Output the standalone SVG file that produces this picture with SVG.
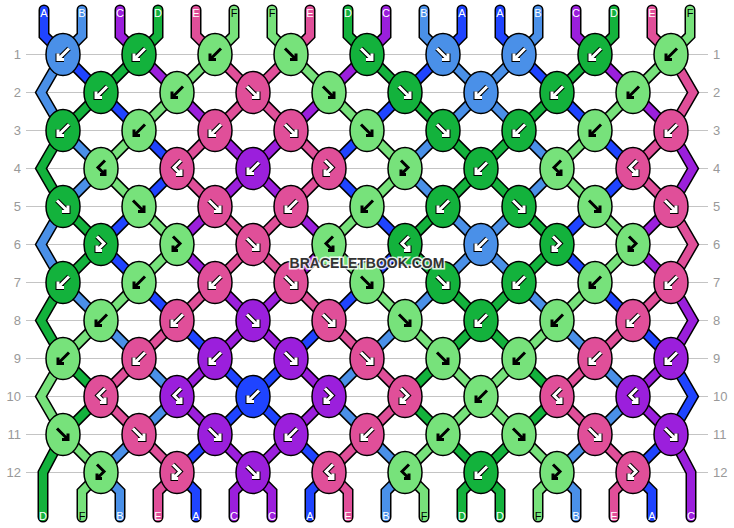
<svg xmlns="http://www.w3.org/2000/svg" xmlns:xlink="http://www.w3.org/1999/xlink" width="734" height="528" viewBox="0 0 734 528">
<style>
.A{fill:#1f44ff}.B{fill:#4a90e8}.C{fill:#9b1fdc}.D{fill:#13b23c}.E{fill:#e04f99}.F{fill:#77e27b}
ellipse{stroke:#000;stroke-width:1.5}
.rl{font-family:"Liberation Sans",Arial,sans-serif;font-size:13px;fill:#999}
.sl{font-family:"Liberation Sans",Arial,sans-serif;font-size:11px;text-anchor:middle;fill:#fff}
.sl.k{fill:#000}
.wm{font-family:"Liberation Sans",Arial,sans-serif;font-size:14px;font-weight:bold;text-anchor:middle;fill:#333;stroke:#fff;stroke-width:3;stroke-opacity:0.85;paint-order:stroke}
</style>
<defs>
<path id="aL" d="M6,-6L-5,5M-5,-1L-5,5L1,5"/>
<path id="aR" d="M-6,-6L5,5M5,-1L5,5L-1,5"/>
<path id="aFB" d="M-4,-8L3,-1L-4,6M-4,1L-4,6L1,6"/>
<path id="aBF" d="M4,-8L-3,-1L4,6M4,1L4,6L-1,6"/>
<g id="wL" fill="none"><use href="#aL" stroke="#000" stroke-width="5"/><use href="#aL" stroke="#fff" stroke-width="3"/></g>
<g id="wR" fill="none"><use href="#aR" stroke="#000" stroke-width="5"/><use href="#aR" stroke="#fff" stroke-width="3"/></g>
<g id="wFB" fill="none"><use href="#aFB" stroke="#000" stroke-width="5"/><use href="#aFB" stroke="#fff" stroke-width="3"/></g>
<g id="wBF" fill="none"><use href="#aBF" stroke="#000" stroke-width="5"/><use href="#aBF" stroke="#fff" stroke-width="3"/></g>
<g id="bL" fill="none"><use href="#aL" stroke="#000" stroke-width="3"/></g>
<g id="bR" fill="none"><use href="#aR" stroke="#000" stroke-width="3"/></g>
<g id="bFB" fill="none"><use href="#aFB" stroke="#000" stroke-width="3"/></g>
<g id="bBF" fill="none"><use href="#aBF" stroke="#000" stroke-width="3"/></g>
</defs>
<rect width="734" height="528" fill="#fff"/>
<g id="grid">
<path d="M26 54.5H708M26 92.5H708M26 130.5H708M26 168.5H708M26 206.5H708M26 244.5H708M26 282.5H708M26 320.5H708M26 358.5H708M26 396.5H708M26 434.5H708M26 472.5H708" stroke="#c4c4c4" stroke-width="1" fill="none"/>
</g>
<g id="connectors" fill="none" stroke-linecap="round" stroke-linejoin="miter">
<g stroke="#000" stroke-width="11">
<use href="#sA"/><use href="#sB"/><use href="#sC"/><use href="#sD"/><use href="#sE"/><use href="#sF"/>
</g>
<g stroke="#1f44ff" stroke-width="8"><path id="sA" d="M44 10V35.5L63 54.5M462 10V35.5L443 54.5M500 10V35.5L519 54.5M63 54.5l38 38M443 54.5l-38 38M519 54.5l38 38M101 92.5l38 38M405 92.5l-38 38M557 92.5l38 38M139 130.5l38 38M367 130.5l-38 38M595 130.5l38 38M177 168.5l-38 38M329 168.5l38 38M633 168.5l-38 38M139 206.5l-38 38M367 206.5l38 38M595 206.5l-38 38M101 244.5l38 38M405 244.5l-38 38M557 244.5l38 38M139 282.5l38 38M367 282.5l-38 38M595 282.5l38 38M177 320.5l38 38M329 320.5l-38 38M633 320.5l38 38M215 358.5l38 38M291 358.5l-38 38M253 396.5l-38 38M253 396.5l38 38M215 434.5l-38 38M291 434.5l38 38M671 434.5l-38 38M177 472.5L196 491.5V517M329 472.5L310 491.5V517M633 472.5L652 491.5V517M671 358.5L693 396.5L671 434.5"/></g>
<g stroke="#4a90e8" stroke-width="8"><path id="sB" d="M82 10V35.5L63 54.5M424 10V35.5L443 54.5M538 10V35.5L519 54.5M443 54.5l38 38M519 54.5l-38 38M63 54.5L41 92.5L63 130.5M481 92.5l-38 38M481 92.5l38 38M63 130.5l38 38M443 130.5l-38 38M519 130.5l38 38M101 168.5l-38 38M405 168.5l38 38M557 168.5l-38 38M443 206.5l38 38M519 206.5l-38 38M63 206.5L41 244.5L63 282.5M481 244.5l-38 38M481 244.5l38 38M63 282.5l38 38M443 282.5l-38 38M519 282.5l38 38M101 320.5l38 38M405 320.5l-38 38M557 320.5l38 38M139 358.5l38 38M367 358.5l-38 38M595 358.5l38 38M177 396.5l-38 38M329 396.5l38 38M633 396.5l-38 38M139 434.5l-38 38M367 434.5l38 38M595 434.5l-38 38M101 472.5L120 491.5V517M405 472.5L386 491.5V517M557 472.5L576 491.5V517"/></g>
<g stroke="#9b1fdc" stroke-width="8"><path id="sC" d="M120 10V35.5L139 54.5M386 10V35.5L367 54.5M576 10V35.5L595 54.5M139 54.5l38 38M367 54.5l-38 38M595 54.5l38 38M177 92.5l38 38M329 92.5l-38 38M633 92.5l38 38M215 130.5l38 38M291 130.5l-38 38M671 130.5L693 168.5L671 206.5M253 168.5l-38 38M253 168.5l38 38M215 206.5l-38 38M291 206.5l38 38M671 206.5l-38 38M177 244.5l38 38M329 244.5l-38 38M633 244.5l38 38M215 282.5l38 38M291 282.5l-38 38M671 282.5L693 320.5L671 358.5M253 320.5l-38 38M253 320.5l38 38M215 358.5l-38 38M291 358.5l38 38M671 358.5l-38 38M177 396.5l38 38M329 396.5l-38 38M633 396.5l38 38M215 434.5l38 38M291 434.5l-38 38M253 472.5L234 491.5V517M253 472.5L272 491.5V517M671 434.5L691 472.5V517"/></g>
<g stroke="#13b23c" stroke-width="8"><path id="sD" d="M158 10V35.5L139 54.5M348 10V35.5L367 54.5M614 10V35.5L595 54.5M139 54.5l-38 38M367 54.5l38 38M595 54.5l-38 38M101 92.5l-38 38M405 92.5l38 38M557 92.5l-38 38M63 130.5L41 168.5L63 206.5M443 130.5l38 38M519 130.5l-38 38M481 168.5l-38 38M481 168.5l38 38M63 206.5l38 38M443 206.5l-38 38M519 206.5l38 38M101 244.5l-38 38M405 244.5l38 38M557 244.5l-38 38M63 282.5L41 320.5L63 358.5M443 282.5l38 38M519 282.5l-38 38M481 320.5l-38 38M481 320.5l38 38M63 358.5l38 38M443 358.5l-38 38M519 358.5l38 38M101 396.5l-38 38M405 396.5l38 38M557 396.5l-38 38M443 434.5l38 38M519 434.5l-38 38M481 472.5L462 491.5V517M481 472.5L500 491.5V517M63 434.5L43 472.5V517"/></g>
<g stroke="#e04f99" stroke-width="8"><path id="sE" d="M196 10V35.5L215 54.5M310 10V35.5L291 54.5M652 10V35.5L671 54.5M215 54.5l38 38M291 54.5l-38 38M671 54.5L693 92.5L671 130.5M253 92.5l-38 38M253 92.5l38 38M215 130.5l-38 38M291 130.5l38 38M671 130.5l-38 38M177 168.5l38 38M329 168.5l-38 38M633 168.5l38 38M215 206.5l38 38M291 206.5l-38 38M671 206.5L693 244.5L671 282.5M253 244.5l-38 38M253 244.5l38 38M215 282.5l-38 38M291 282.5l38 38M671 282.5l-38 38M177 320.5l-38 38M329 320.5l38 38M633 320.5l-38 38M139 358.5l-38 38M367 358.5l38 38M595 358.5l-38 38M101 396.5l38 38M405 396.5l-38 38M557 396.5l38 38M139 434.5l38 38M367 434.5l-38 38M595 434.5l38 38M177 472.5L158 491.5V517M329 472.5L348 491.5V517M633 472.5L614 491.5V517"/></g>
<g stroke="#77e27b" stroke-width="8"><path id="sF" d="M234 10V35.5L215 54.5M272 10V35.5L291 54.5M690 10V35.5L671 54.5M215 54.5l-38 38M291 54.5l38 38M671 54.5l-38 38M177 92.5l-38 38M329 92.5l38 38M633 92.5l-38 38M139 130.5l-38 38M367 130.5l38 38M595 130.5l-38 38M101 168.5l38 38M405 168.5l-38 38M557 168.5l38 38M139 206.5l38 38M367 206.5l-38 38M595 206.5l38 38M177 244.5l-38 38M329 244.5l38 38M633 244.5l-38 38M139 282.5l-38 38M367 282.5l38 38M595 282.5l-38 38M101 320.5l-38 38M405 320.5l38 38M557 320.5l-38 38M63 358.5L41 396.5L63 434.5M443 358.5l38 38M519 358.5l-38 38M481 396.5l-38 38M481 396.5l38 38M63 434.5l38 38M443 434.5l-38 38M519 434.5l38 38M101 472.5L82 491.5V517M405 472.5L424 491.5V517M557 472.5L538 491.5V517"/></g>
</g>
<g id="knots">
<g id="k1_1" transform="translate(63 54.5)"><ellipse rx="17" ry="21" class="B"/><use href="#wL"/></g>
<g id="k1_2" transform="translate(139 54.5)"><ellipse rx="17" ry="21" class="D"/><use href="#wL"/></g>
<g id="k1_3" transform="translate(215 54.5)"><ellipse rx="17" ry="21" class="F"/><use href="#bL"/></g>
<g id="k1_4" transform="translate(291 54.5)"><ellipse rx="17" ry="21" class="F"/><use href="#bR"/></g>
<g id="k1_5" transform="translate(367 54.5)"><ellipse rx="17" ry="21" class="D"/><use href="#wR"/></g>
<g id="k1_6" transform="translate(443 54.5)"><ellipse rx="17" ry="21" class="B"/><use href="#wR"/></g>
<g id="k1_7" transform="translate(519 54.5)"><ellipse rx="17" ry="21" class="B"/><use href="#wL"/></g>
<g id="k1_8" transform="translate(595 54.5)"><ellipse rx="17" ry="21" class="D"/><use href="#wL"/></g>
<g id="k1_9" transform="translate(671 54.5)"><ellipse rx="17" ry="21" class="F"/><use href="#bL"/></g>

<g id="k2_1" transform="translate(101 92.5)"><ellipse rx="17" ry="21" class="D"/><use href="#wL"/></g>
<g id="k2_2" transform="translate(177 92.5)"><ellipse rx="17" ry="21" class="F"/><use href="#bL"/></g>
<g id="k2_3" transform="translate(253 92.5)"><ellipse rx="17" ry="21" class="E"/><use href="#wR"/></g>
<g id="k2_4" transform="translate(329 92.5)"><ellipse rx="17" ry="21" class="F"/><use href="#bR"/></g>
<g id="k2_5" transform="translate(405 92.5)"><ellipse rx="17" ry="21" class="D"/><use href="#wR"/></g>
<g id="k2_6" transform="translate(481 92.5)"><ellipse rx="17" ry="21" class="B"/><use href="#wL"/></g>
<g id="k2_7" transform="translate(557 92.5)"><ellipse rx="17" ry="21" class="D"/><use href="#wL"/></g>
<g id="k2_8" transform="translate(633 92.5)"><ellipse rx="17" ry="21" class="F"/><use href="#bL"/></g>

<g id="k3_1" transform="translate(63 130.5)"><ellipse rx="17" ry="21" class="D"/><use href="#wL"/></g>
<g id="k3_2" transform="translate(139 130.5)"><ellipse rx="17" ry="21" class="F"/><use href="#bL"/></g>
<g id="k3_3" transform="translate(215 130.5)"><ellipse rx="17" ry="21" class="E"/><use href="#wL"/></g>
<g id="k3_4" transform="translate(291 130.5)"><ellipse rx="17" ry="21" class="E"/><use href="#wR"/></g>
<g id="k3_5" transform="translate(367 130.5)"><ellipse rx="17" ry="21" class="F"/><use href="#bR"/></g>
<g id="k3_6" transform="translate(443 130.5)"><ellipse rx="17" ry="21" class="D"/><use href="#wR"/></g>
<g id="k3_7" transform="translate(519 130.5)"><ellipse rx="17" ry="21" class="D"/><use href="#wL"/></g>
<g id="k3_8" transform="translate(595 130.5)"><ellipse rx="17" ry="21" class="F"/><use href="#bL"/></g>
<g id="k3_9" transform="translate(671 130.5)"><ellipse rx="17" ry="21" class="E"/><use href="#wL"/></g>

<g id="k4_1" transform="translate(101 168.5)"><ellipse rx="17" ry="21" class="F"/><use href="#bBF"/></g>
<g id="k4_2" transform="translate(177 168.5)"><ellipse rx="17" ry="21" class="E"/><use href="#wBF"/></g>
<g id="k4_3" transform="translate(253 168.5)"><ellipse rx="17" ry="21" class="C"/><use href="#wL"/></g>
<g id="k4_4" transform="translate(329 168.5)"><ellipse rx="17" ry="21" class="E"/><use href="#wFB"/></g>
<g id="k4_5" transform="translate(405 168.5)"><ellipse rx="17" ry="21" class="F"/><use href="#bFB"/></g>
<g id="k4_6" transform="translate(481 168.5)"><ellipse rx="17" ry="21" class="D"/><use href="#wL"/></g>
<g id="k4_7" transform="translate(557 168.5)"><ellipse rx="17" ry="21" class="F"/><use href="#bBF"/></g>
<g id="k4_8" transform="translate(633 168.5)"><ellipse rx="17" ry="21" class="E"/><use href="#wBF"/></g>

<g id="k5_1" transform="translate(63 206.5)"><ellipse rx="17" ry="21" class="D"/><use href="#wR"/></g>
<g id="k5_2" transform="translate(139 206.5)"><ellipse rx="17" ry="21" class="F"/><use href="#bR"/></g>
<g id="k5_3" transform="translate(215 206.5)"><ellipse rx="17" ry="21" class="E"/><use href="#wR"/></g>
<g id="k5_4" transform="translate(291 206.5)"><ellipse rx="17" ry="21" class="E"/><use href="#wL"/></g>
<g id="k5_5" transform="translate(367 206.5)"><ellipse rx="17" ry="21" class="F"/><use href="#bL"/></g>
<g id="k5_6" transform="translate(443 206.5)"><ellipse rx="17" ry="21" class="D"/><use href="#wL"/></g>
<g id="k5_7" transform="translate(519 206.5)"><ellipse rx="17" ry="21" class="D"/><use href="#wR"/></g>
<g id="k5_8" transform="translate(595 206.5)"><ellipse rx="17" ry="21" class="F"/><use href="#bR"/></g>
<g id="k5_9" transform="translate(671 206.5)"><ellipse rx="17" ry="21" class="E"/><use href="#wR"/></g>

<g id="k6_1" transform="translate(101 244.5)"><ellipse rx="17" ry="21" class="D"/><use href="#wFB"/></g>
<g id="k6_2" transform="translate(177 244.5)"><ellipse rx="17" ry="21" class="F"/><use href="#bFB"/></g>
<g id="k6_3" transform="translate(253 244.5)"><ellipse rx="17" ry="21" class="E"/><use href="#wR"/></g>
<g id="k6_4" transform="translate(329 244.5)"><ellipse rx="17" ry="21" class="F"/><use href="#bBF"/></g>
<g id="k6_5" transform="translate(405 244.5)"><ellipse rx="17" ry="21" class="D"/><use href="#wBF"/></g>
<g id="k6_6" transform="translate(481 244.5)"><ellipse rx="17" ry="21" class="B"/><use href="#wL"/></g>
<g id="k6_7" transform="translate(557 244.5)"><ellipse rx="17" ry="21" class="D"/><use href="#wFB"/></g>
<g id="k6_8" transform="translate(633 244.5)"><ellipse rx="17" ry="21" class="F"/><use href="#bFB"/></g>

<g id="k7_1" transform="translate(63 282.5)"><ellipse rx="17" ry="21" class="D"/><use href="#wL"/></g>
<g id="k7_2" transform="translate(139 282.5)"><ellipse rx="17" ry="21" class="F"/><use href="#bL"/></g>
<g id="k7_3" transform="translate(215 282.5)"><ellipse rx="17" ry="21" class="E"/><use href="#wL"/></g>
<g id="k7_4" transform="translate(291 282.5)"><ellipse rx="17" ry="21" class="E"/><use href="#wR"/></g>
<g id="k7_5" transform="translate(367 282.5)"><ellipse rx="17" ry="21" class="F"/><use href="#bR"/></g>
<g id="k7_6" transform="translate(443 282.5)"><ellipse rx="17" ry="21" class="D"/><use href="#wR"/></g>
<g id="k7_7" transform="translate(519 282.5)"><ellipse rx="17" ry="21" class="D"/><use href="#wL"/></g>
<g id="k7_8" transform="translate(595 282.5)"><ellipse rx="17" ry="21" class="F"/><use href="#bL"/></g>
<g id="k7_9" transform="translate(671 282.5)"><ellipse rx="17" ry="21" class="E"/><use href="#wL"/></g>

<g id="k8_1" transform="translate(101 320.5)"><ellipse rx="17" ry="21" class="F"/><use href="#bL"/></g>
<g id="k8_2" transform="translate(177 320.5)"><ellipse rx="17" ry="21" class="E"/><use href="#wL"/></g>
<g id="k8_3" transform="translate(253 320.5)"><ellipse rx="17" ry="21" class="C"/><use href="#wR"/></g>
<g id="k8_4" transform="translate(329 320.5)"><ellipse rx="17" ry="21" class="E"/><use href="#wR"/></g>
<g id="k8_5" transform="translate(405 320.5)"><ellipse rx="17" ry="21" class="F"/><use href="#bR"/></g>
<g id="k8_6" transform="translate(481 320.5)"><ellipse rx="17" ry="21" class="D"/><use href="#wL"/></g>
<g id="k8_7" transform="translate(557 320.5)"><ellipse rx="17" ry="21" class="F"/><use href="#bL"/></g>
<g id="k8_8" transform="translate(633 320.5)"><ellipse rx="17" ry="21" class="E"/><use href="#wL"/></g>

<g id="k9_1" transform="translate(63 358.5)"><ellipse rx="17" ry="21" class="F"/><use href="#bL"/></g>
<g id="k9_2" transform="translate(139 358.5)"><ellipse rx="17" ry="21" class="E"/><use href="#wL"/></g>
<g id="k9_3" transform="translate(215 358.5)"><ellipse rx="17" ry="21" class="C"/><use href="#wL"/></g>
<g id="k9_4" transform="translate(291 358.5)"><ellipse rx="17" ry="21" class="C"/><use href="#wR"/></g>
<g id="k9_5" transform="translate(367 358.5)"><ellipse rx="17" ry="21" class="E"/><use href="#wR"/></g>
<g id="k9_6" transform="translate(443 358.5)"><ellipse rx="17" ry="21" class="F"/><use href="#bR"/></g>
<g id="k9_7" transform="translate(519 358.5)"><ellipse rx="17" ry="21" class="F"/><use href="#bL"/></g>
<g id="k9_8" transform="translate(595 358.5)"><ellipse rx="17" ry="21" class="E"/><use href="#wL"/></g>
<g id="k9_9" transform="translate(671 358.5)"><ellipse rx="17" ry="21" class="C"/><use href="#wL"/></g>

<g id="k10_1" transform="translate(101 396.5)"><ellipse rx="17" ry="21" class="E"/><use href="#wBF"/></g>
<g id="k10_2" transform="translate(177 396.5)"><ellipse rx="17" ry="21" class="C"/><use href="#wBF"/></g>
<g id="k10_3" transform="translate(253 396.5)"><ellipse rx="17" ry="21" class="A"/><use href="#wL"/></g>
<g id="k10_4" transform="translate(329 396.5)"><ellipse rx="17" ry="21" class="C"/><use href="#wFB"/></g>
<g id="k10_5" transform="translate(405 396.5)"><ellipse rx="17" ry="21" class="E"/><use href="#wFB"/></g>
<g id="k10_6" transform="translate(481 396.5)"><ellipse rx="17" ry="21" class="F"/><use href="#bL"/></g>
<g id="k10_7" transform="translate(557 396.5)"><ellipse rx="17" ry="21" class="E"/><use href="#wBF"/></g>
<g id="k10_8" transform="translate(633 396.5)"><ellipse rx="17" ry="21" class="C"/><use href="#wBF"/></g>

<g id="k11_1" transform="translate(63 434.5)"><ellipse rx="17" ry="21" class="F"/><use href="#bR"/></g>
<g id="k11_2" transform="translate(139 434.5)"><ellipse rx="17" ry="21" class="E"/><use href="#wR"/></g>
<g id="k11_3" transform="translate(215 434.5)"><ellipse rx="17" ry="21" class="C"/><use href="#wR"/></g>
<g id="k11_4" transform="translate(291 434.5)"><ellipse rx="17" ry="21" class="C"/><use href="#wL"/></g>
<g id="k11_5" transform="translate(367 434.5)"><ellipse rx="17" ry="21" class="E"/><use href="#wL"/></g>
<g id="k11_6" transform="translate(443 434.5)"><ellipse rx="17" ry="21" class="F"/><use href="#bL"/></g>
<g id="k11_7" transform="translate(519 434.5)"><ellipse rx="17" ry="21" class="F"/><use href="#bR"/></g>
<g id="k11_8" transform="translate(595 434.5)"><ellipse rx="17" ry="21" class="E"/><use href="#wR"/></g>
<g id="k11_9" transform="translate(671 434.5)"><ellipse rx="17" ry="21" class="C"/><use href="#wR"/></g>

<g id="k12_1" transform="translate(101 472.5)"><ellipse rx="17" ry="21" class="F"/><use href="#bFB"/></g>
<g id="k12_2" transform="translate(177 472.5)"><ellipse rx="17" ry="21" class="E"/><use href="#wFB"/></g>
<g id="k12_3" transform="translate(253 472.5)"><ellipse rx="17" ry="21" class="C"/><use href="#wR"/></g>
<g id="k12_4" transform="translate(329 472.5)"><ellipse rx="17" ry="21" class="E"/><use href="#wBF"/></g>
<g id="k12_5" transform="translate(405 472.5)"><ellipse rx="17" ry="21" class="F"/><use href="#bBF"/></g>
<g id="k12_6" transform="translate(481 472.5)"><ellipse rx="17" ry="21" class="D"/><use href="#wL"/></g>
<g id="k12_7" transform="translate(557 472.5)"><ellipse rx="17" ry="21" class="F"/><use href="#bFB"/></g>
<g id="k12_8" transform="translate(633 472.5)"><ellipse rx="17" ry="21" class="E"/><use href="#wFB"/></g>
</g>
<text class="wm" x="367" y="268">BRACELETBOOK.COM</text>
<g id="row-labels">
<text class="rl" x="21" y="59" text-anchor="end">1</text><text class="rl" x="713" y="59">1</text>
<text class="rl" x="21" y="97" text-anchor="end">2</text><text class="rl" x="713" y="97">2</text>
<text class="rl" x="21" y="135" text-anchor="end">3</text><text class="rl" x="713" y="135">3</text>
<text class="rl" x="21" y="173" text-anchor="end">4</text><text class="rl" x="713" y="173">4</text>
<text class="rl" x="21" y="211" text-anchor="end">5</text><text class="rl" x="713" y="211">5</text>
<text class="rl" x="21" y="249" text-anchor="end">6</text><text class="rl" x="713" y="249">6</text>
<text class="rl" x="21" y="287" text-anchor="end">7</text><text class="rl" x="713" y="287">7</text>
<text class="rl" x="21" y="325" text-anchor="end">8</text><text class="rl" x="713" y="325">8</text>
<text class="rl" x="21" y="363" text-anchor="end">9</text><text class="rl" x="713" y="363">9</text>
<text class="rl" x="21" y="401" text-anchor="end">10</text><text class="rl" x="713" y="401">10</text>
<text class="rl" x="21" y="439" text-anchor="end">11</text><text class="rl" x="713" y="439">11</text>
<text class="rl" x="21" y="477" text-anchor="end">12</text><text class="rl" x="713" y="477">12</text>
</g>
<g id="top-labels">
<text class="sl" x="44" y="17">A</text><text class="sl" x="82" y="17">B</text><text class="sl" x="120" y="17">C</text><text class="sl" x="158" y="17">D</text><text class="sl" x="196" y="17">E</text><text class="sl k" x="234" y="17">F</text>
<text class="sl k" x="272" y="17">F</text><text class="sl" x="310" y="17">E</text><text class="sl" x="348" y="17">D</text><text class="sl" x="386" y="17">C</text><text class="sl" x="424" y="17">B</text><text class="sl" x="462" y="17">A</text>
<text class="sl" x="500" y="17">A</text><text class="sl" x="538" y="17">B</text><text class="sl" x="576" y="17">C</text><text class="sl" x="614" y="17">D</text><text class="sl" x="652" y="17">E</text><text class="sl k" x="690" y="17">F</text>
</g>
<g id="bottom-labels">
<text class="sl" x="43" y="520">D</text><text class="sl k" x="82" y="520">F</text><text class="sl" x="120" y="520">B</text><text class="sl" x="158" y="520">E</text><text class="sl" x="196" y="520">A</text><text class="sl" x="234" y="520">C</text>
<text class="sl" x="272" y="520">C</text><text class="sl" x="310" y="520">A</text><text class="sl" x="348" y="520">E</text><text class="sl" x="386" y="520">B</text><text class="sl k" x="424" y="520">F</text><text class="sl" x="462" y="520">D</text>
<text class="sl" x="500" y="520">D</text><text class="sl k" x="538" y="520">F</text><text class="sl" x="576" y="520">B</text><text class="sl" x="614" y="520">E</text><text class="sl" x="652" y="520">A</text><text class="sl" x="691" y="520">C</text>
</g>
</svg>
